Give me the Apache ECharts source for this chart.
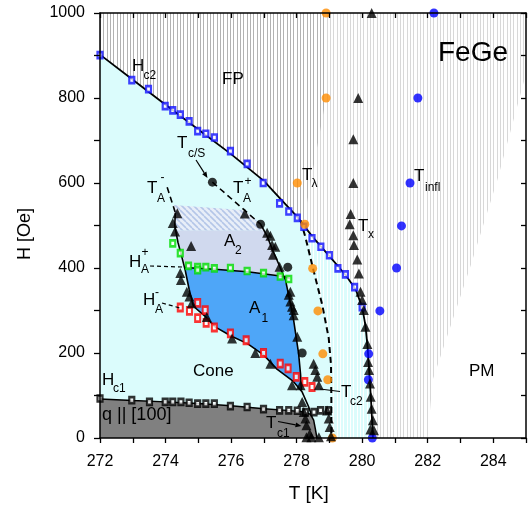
<!DOCTYPE html>
<html><head><meta charset="utf-8">
<script src="https://cdn.jsdelivr.net/npm/echarts@6/dist/echarts.min.js"></script>
<style>html,body{margin:0;padding:0;background:#fff}#c{width:531px;height:512px}</style>
</head><body><div id="c"></div>
<script>
// ---------------- DATA (T [K], H [Oe]) ----------------
const xTicks = [272, 274, 276, 278, 280, 282, 284];
const yTicks = [0, 200, 400, 600, 800, 1000];

const hc2Line = [[272,902],[273,843],[274,784],[275,726],[276,668],[277,605],[277.5,563],[278,522],[278.5,472],[279,428],[279.5,383],[279.8,350],[280.0,308],[280.1,265],[280.17,210],[280.22,150],[280.27,90],[280.31,30],[280.33,0]];
const hc1Line = [[272,92],[273,88],[274,85],[275,81],[276,76],[277,69],[277.7,65],[278.2,62],[278.42,56],[278.52,42],[278.57,22],[278.62,0]];
const tc2Line = [[278.12,512],[278.27,472],[278.52,393],[278.78,314],[278.98,235],[279.05,172],[279.06,89],[279.06,0]];
const pmEdge = [[282.0,0],[282.15,136],[283.3,403],[284.13,608],[285,857]];
const darkEdge = [[278.2,505],[278.9,800],[278.9,1000]];

const aLeftDash = [[274.05,590],[274.3,530]];
const aLeftLine = [[274.3,530],[274.28,500],[274.38,460],[274.5,425],[274.6,395],[274.72,350],[274.85,310]];
const aRightDash = [[275.43,602],[276.9,503]];
const aRightLine = [[276.9,503],[277.1,475],[277.28,440],[277.45,410],[277.6,382],[277.66,372],[277.8,320],[277.91,277],[278.06,199],[278.12,150],[278.15,112]];
const haPlusLine = [[274.57,401],[275.5,397],[276.5,391],[277.62,380],[277.8,375]];
const haMinusLine = [[274.85,310],[275.2,287],[275.5,262],[276,240],[276.5,222],[277,195],[277.4,162],[277.9,133],[278.17,108],[278.37,73],[278.47,50]];

const a1Region = [[274.57,401],[275.5,397],[276.5,391],[277.62,380],[277.8,320],[277.91,277],[278.06,199],[278.12,150],[278.15,112],[277.9,133],[277.4,162],[277,195],[276.5,222],[276,240],[275.5,262],[275.2,287],[274.85,310],[274.72,350]];
const a2Region = [[274.3,489],[277.02,489],[277.1,475],[277.28,440],[277.45,410],[277.62,380],[276.5,391],[275.5,397],[274.57,401],[274.5,425],[274.38,460]];
const hatchRegion = [[274.23,548],[276.42,536],[276.9,503],[277.02,489],[274.3,489],[274.28,500]];

const hc2Squares = [[272,901],[272.97,842],[273.48,821],[273.99,781],[274.22,771],[274.45,761],[274.72,745],[274.98,722],[275.23,716],[275.49,707],[275.98,675],[276.49,645],[276.98,600],[277.48,552],[277.76,533],[278.02,518],[278.22,497],[278.47,470],[278.74,450],[279.0,430],[279.26,399],[279.49,385],[279.77,355],[280.0,308]];
const tLambda = [[278.9,1000],[278.9,800],[278.02,600],[278.25,503],[278.49,399],[278.65,299],[278.8,198],[278.95,137],[279.09,0]];
const tInfl = [[282.19,1000],[281.7,800],[281.46,600],[281.2,499],[281.05,400],[280.54,299],[280.2,198],[280.19,137],[280.31,0]];
const tX = [[280.29,1000],[279.88,800],[279.73,703],[279.73,600],[279.65,527],[279.62,503],[279.73,477],[279.75,454],[279.85,420],[279.9,387],[279.95,344],[280.0,325],[280.05,301],[280.1,262],[280.16,221],[280.18,179],[280.21,160],[280.24,128],[280.26,97],[280.29,69],[280.33,42],[280.36,18],[280.25,20]];
const tA = [[274.36,529],[274.22,506],[274.29,486],[274.78,452],[274.45,388],[274.47,372],[274.65,344],[274.73,333],[274.8,317],
  [275.26,285],[276.03,234],[276.74,200],[277.2,175],[277.86,124],[278.12,124],
  [276.42,528],[277.1,483],[277.2,476],[277.25,454],[277.35,450],[277.28,431],[277.48,403],[277.76,337],[277.81,344],[277.81,321],[277.86,309],[277.91,289],[277.91,301],[278.02,238],
  [278.52,175],[278.57,160],[278.63,144],[278.68,124],[278.17,85],[278.22,61],[278.27,46],[278.3,30],[278.4,10],[278.68,2],[278.93,65],[278.98,46],[279.01,26],[279.05,4],[278.3,2],[278.45,2]];
const greenSq = [[274.22,458],[274.45,435],[274.7,405],[274.98,402],[274.98,395],[275.23,402],[275.49,399],[275.98,400],[276.49,393],[276.99,388],[277.5,380],[277.76,374]];
const redSq = [[274.45,307],[274.73,299],[274.98,318],[274.98,282],[275.21,301],[275.24,271],[275.49,260],[275.98,246],[276.46,230],[276.99,200],[277.5,175],[277.74,164],[277.99,144],[278.25,132],[278.47,120]];
const hc1Sq = [[272,93],[272.97,89],[273.51,85],[273.99,85],[274.22,85],[274.47,85],[274.72,83],[274.98,81],[275.23,81],[275.49,81],[275.98,75],[276.49,73],[276.99,68],[277.48,65],[277.76,65],[278.02,64],[278.27,61],[278.53,61],[278.73,65],[278.97,65]];
const blackCircles = [[275.43,602],[276.9,503],[277.73,402],[278.17,200]];

// ---------------- STYLES ----------------
const FONT = '"Liberation Sans", Arial, Helvetica, sans-serif';
function vStripes(line, bg) {
  const c = document.createElement('canvas'); c.width = 10; c.height = 10;
  const g = c.getContext('2d');
  if (bg) { g.fillStyle = bg; g.fillRect(0, 0, 10, 10); }
  g.fillStyle = line; [0, 3, 7].forEach(x => g.fillRect(x, 0, 1, 10));
  return {image: c, repeat: 'repeat'};
}
function diagStripes(line, bg) {
  const c = document.createElement('canvas'); c.width = 6; c.height = 6;
  const g = c.getContext('2d');
  g.fillStyle = bg; g.fillRect(0, 0, 6, 6);
  g.strokeStyle = line; g.lineWidth = 1.6;
  [-6, 0, 6].forEach(x => { g.beginPath(); g.moveTo(x, 0); g.lineTo(x + 6, 6); g.stroke(); });
  return {image: c, repeat: 'repeat'};
}

function poly(pts, fill, z) {
  return {type: 'custom', coordinateSystem: 'cartesian2d', z, silent: true, data: pts, encode: {x: 0, y: 1},
    renderItem: function (params, api) {
      if (params.dataIndex !== 0) return null;
      return {type: 'polygon', shape: {points: pts.map(p => api.coord(p))}, style: {fill: fill}};
    }};
}
function line(pts, width, dash) {
  return {type: 'line', data: pts, showSymbol: false, symbol: 'none', silent: true, z: 5,
    lineStyle: {color: '#000', width: width, type: dash ? [6, 4] : 'solid'}};
}
function sq(pts, color, size) {
  return {type: 'scatter', data: pts, symbol: 'rect', symbolSize: size, silent: true, z: 6,
    itemStyle: {color: '#fff', borderColor: color, borderWidth: 2.4}};
}
function dot(pts, color, symbol, size) {
  return {type: 'scatter', data: pts, symbol: symbol, symbolSize: size, silent: true, z: 7,
    itemStyle: {color: color}};
}

// region polygons built from the boundary arrays
const stripeAll = hc2Line.concat(pmEdge, [[285,1000],[272,1000]]);
const stripeDark = [[272,1000]].concat(hc2Line.filter(p => p[1] >= 520), darkEdge);
const coneAll = [[272,0]].concat(hc2Line);
const tc2Band = tc2Line.concat([[280.33,0]], hc2Line.filter(p => p[1] > 0 && p[1] < 512).reverse());
const qRegion = [[272,0]].concat(hc1Line);

// ---------------- TEXT ----------------
function T(x, y, s, size) {
  return {type: 'text', x: x, y: y, z: 100, silent: true,
    style: {text: s, fill: '#000', font: size + 'px ' + FONT, align: 'left', textAlign: 'left', verticalAlign: 'middle', textVerticalAlign: 'middle'}};
}
function L(x1, y1, x2, y2, dash) {
  return {type: 'line', z: 100, silent: true, shape: {x1, y1, x2, y2}, style: {stroke: '#000', lineWidth: 1.2, lineDash: dash ? [4, 3] : null}};
}
function arrow(x1, y1, x2, y2) {
  const dx = x2 - x1, dy = y2 - y1, l = Math.hypot(dx, dy), ux = dx / l, uy = dy / l;
  const bx = x2 - ux * 6, by = y2 - uy * 6;
  return [L(x1, y1, bx, by), {type: 'polygon', z: 100, silent: true,
    shape: {points: [[x2, y2], [bx - uy * 2.5, by + ux * 2.5], [bx + uy * 2.5, by - ux * 2.5]]}, style: {fill: '#000'}}];
}
const B = 17, S = 12;
const graphics = [
  T(438, 53, 'FeGe', 28),
  T(222, 79, 'FP', B),
  T(132, 66, 'H', B), T(143.5, 76, 'c2', S),
  T(177, 143.5, 'T', B), T(188, 154, 'c/S', S),
  T(147, 188, 'T', B), T(160.5, 178, '-', S), T(157, 199, 'A', S),
  T(233, 188.5, 'T', B), T(244.5, 182, '+', S), T(243, 199, 'A', S),
  T(224, 241, 'A', B), T(235, 250.5, '2', S),
  T(249, 308.5, 'A', B), T(261.5, 318.5, '1', S),
  T(129, 262.5, 'H', B), T(141.5, 253, '+', S), T(141, 270, 'A', S),
  T(143, 300.5, 'H', B), T(155, 293, '-', S), T(155, 310, 'A', S),
  T(193, 371, 'Cone', B),
  T(102, 380, 'H', B), T(113, 389, 'c1', S),
  T(102, 415.5, 'q || [100]', 18),
  T(266, 423.5, 'T', B), T(277, 433.5, 'c1', S),
  T(341, 392.5, 'T', B), T(350, 401.5, 'c2', S),
  T(302, 175, 'T', B), T(311.5, 184, 'λ', S),
  T(358, 226, 'T', B), T(368, 235, 'x', S),
  T(414, 176.5, 'T', B), T(425, 187.5, 'infl', S),
  T(469, 371.5, 'PM', B),
  {type: 'text', x: 308.7, y: 494, z: 100, silent: true,
    style: {text: 'T [K]', fill: '#000', font: '19px ' + FONT, align: 'center', textAlign: 'center', verticalAlign: 'middle', textVerticalAlign: 'middle'}},
  {type: 'text', x: 25, y: 234, rotation: Math.PI / 2, z: 100, silent: true,
    style: {text: 'H [Oe]', fill: '#000', font: '18px ' + FONT, align: 'center', textAlign: 'center', verticalAlign: 'middle', textVerticalAlign: 'middle'}},
  L(150, 266, 182, 267, true),
  L(162, 303, 180, 308, true),
  L(320, 389, 340, 391.5, false)
].concat(arrow(196, 160, 207.5, 178), arrow(278, 421.5, 301.5, 426));

// ---------------- AXES ----------------
const axLine = {lineStyle: {color: '#000', width: 1.5}};
const tickSt = {color: '#000', width: 1.3};
const labSt = {color: '#000', fontSize: 16, fontFamily: FONT};

const option = {
  animation: false,
  textStyle: {fontFamily: FONT},
  grid: {left: 100, right: 5, top: 13, bottom: 74, containLabel: false},
  xAxis: [
    {type: 'value', position: 'bottom', min: 272, max: 285, interval: 1, z: 50,
      axisLine: Object.assign({onZero: false}, axLine), axisTick: {length: 5, lineStyle: tickSt},
      axisLabel: Object.assign({margin: 16, formatter: v => xTicks.indexOf(v) >= 0 ? String(v) : ''}, labSt),
      splitLine: {show: false}},
    {type: 'value', position: 'top', min: 272, max: 285, interval: 1, z: 50,
      axisLine: Object.assign({onZero: false}, axLine), axisTick: {inside: true, length: 5, lineStyle: tickSt},
      axisLabel: {show: false}, splitLine: {show: false}}
  ],
  yAxis: [
    {type: 'value', position: 'left', min: 0, max: 1000, interval: 100, z: 50,
      axisLine: Object.assign({onZero: false}, axLine), axisTick: {length: 6, lineStyle: tickSt},
      axisLabel: Object.assign({margin: 15, formatter: v => yTicks.indexOf(v) >= 0 ? String(v) : ''}, labSt),
      splitLine: {show: false}},
    {type: 'value', position: 'right', min: 0, max: 1000, interval: 100, z: 50,
      axisLine: Object.assign({onZero: false}, axLine), axisTick: {inside: true, length: 5, lineStyle: tickSt},
      axisLabel: {show: false}, splitLine: {show: false}}
  ],
  series: [
    poly(stripeAll, vStripes('#d8d8d8'), 1),
    poly(stripeDark, vStripes('#b2b2b2', '#ffffff'), 1.5),
    poly(coneAll, '#dbfcfc', 2),
    poly(tc2Band, vStripes('#ffffff'), 3),
    poly(qRegion, '#808080', 4),
    poly(a1Region, '#4ea6f8', 4),
    poly(a2Region, '#d0d9ee', 4),
    poly(hatchRegion, diagStripes('#b4c6e8', '#e8eef8'), 4),
    line(hc2Line, 1.8, false),
    line(hc1Line, 1.5, false),
    line(tc2Line, 2, true),
    line(aLeftDash, 1.6, true),
    line(aLeftLine, 1.6, false),
    line(aRightDash, 1.6, true),
    line(aRightLine, 1.6, false),
    line(haPlusLine, 1.6, false),
    line(haMinusLine, 1.6, false),
    sq(hc2Squares, '#1010ff', [5, 6]),
    dot(tLambda, '#ff8c00', 'circle', 9),
    dot(tInfl, '#0000ff', 'circle', 9),
    dot(tX, '#000', 'triangle', 10),
    dot(tA, '#000', 'triangle', 10),
    sq(greenSq, '#00dd00', [5, 6]),
    sq(redSq, '#ff0000', [5, 7]),
    sq(hc1Sq, '#000', [5, 6]),
    dot(blackCircles, '#000', 'circle', 9)
  ],
  graphic: graphics
};
const chart = echarts.init(document.getElementById('c'), null, {renderer: 'canvas'});
chart.setOption(option);
</script></body></html>
